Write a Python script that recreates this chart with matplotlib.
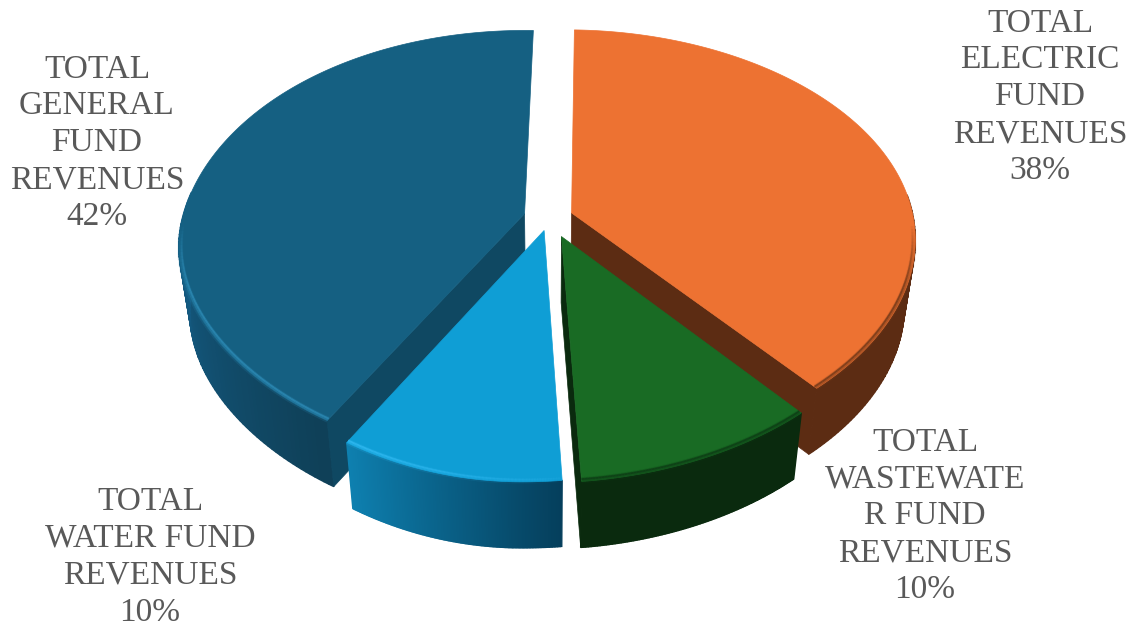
import numpy as np
import matplotlib
matplotlib.use("Agg")
import matplotlib.pyplot as plt
from matplotlib.collections import LineCollection
from matplotlib.colors import to_rgb
from matplotlib.patches import Polygon

# Fund shares, clockwise from twelve o'clock
labels = ["TOTAL\nELECTRIC\nFUND\nREVENUES", "TOTAL\nWASTEWATE\nR FUND\nREVENUES",
          "TOTAL\nWATER FUND\nREVENUES", "TOTAL\nGENERAL\nFUND\nREVENUES"]
shares = [38, 10, 10, 42]
explode = [0.07, 0.095, 0.06, 0.075]
radius = [1.0, 0.975, 1.0, 1.0]

top_colors = ["#ED7232", "#196B24", "#0F9ED5", "#156082"]
wall_light = ["#5C2C13", "#0A2A0E", "#0E80B0", "#15608A"]
wall_dark = ["#5C2C13", "#0A2A0E", "#053F5C", "#0F4058"]
cut_colors = ["#5C2C13", "#0A2A0E", "#0A4A66", "#0F4862"]
rim_colors = ["#7A3C1A", "#0E3F16", "#2FB8F0", "#2A86B0"]
label_pos = [(1040, 97), (925, 516), (150, 557), (97, 143)]

W, H = 1137, 628
CX, CY = 549, 218
A, B, K = 342, 211, 0.145
S, Q, T = 7.5, -9.5, 38
DEPTH, TAPER = 66, 0.97
START = 1.5


def project(x, y):
    w = 1 + K * y
    # T pulls the lower left quadrant in a little
    lean = T * np.maximum(-x, 0) * np.maximum(-y, 0) ** 2
    return CX + (A * x + S * y + Q * y * y + lean) / w, CY - B * y / w


def lower(px, py):
    # bottom edge of the extrusion, leaning slightly towards the middle
    return CX + (px - CX) * TAPER, py + DEPTH


def arc(a0, a1, r, ox, oy, n=160):
    t = np.radians(np.linspace(a0, a1, n))
    return project(r * np.sin(t) + ox, r * np.cos(t) + oy)


fig = plt.figure(figsize=(W / 100, H / 100), dpi=100)
ax = fig.add_axes([0, 0, 1, 1])
ax.set_xlim(0, W)
ax.set_ylim(H, 0)
ax.axis("off")

# angular extent of every slice
edges = START + np.cumsum([0] + shares) * 3.6
slices = []
for i in range(len(shares)):
    mid = np.radians((edges[i] + edges[i + 1]) / 2)
    slices.append((edges[i], edges[i + 1], explode[i] * np.sin(mid), explode[i] * np.cos(mid)))


def draw_slice(i, cut):
    a0, a1, ox, oy = slices[i]
    angles = np.linspace(a0, a1, 160)
    xs, ys = arc(a0, a1, radius[i], ox, oy)
    ax_, ay_ = project(np.float64(ox), np.float64(oy))
    bx, by = lower(xs, ys)

    # outer wall as narrow strips so the shade can run along the arc
    c0 = np.array(to_rgb(wall_light[i]))
    c1 = np.array(to_rgb(wall_dark[i]))
    if i == 3:
        u = np.clip(1 - (angles - 212) / 60, 0, 1)
    else:
        u = 1 - np.linspace(0, 1, len(xs))
    for j in range(len(xs) - 1):
        if np.cos(np.radians(angles[j])) > 0.1:
            continue
        col = c0 + (c1 - c0) * u[j]
        pts = [(xs[j], ys[j]), (xs[j + 1], ys[j + 1]), (bx[j + 1], by[j + 1]), (bx[j], by[j])]
        ax.add_patch(Polygon(pts, closed=True, fc=col, ec=col, lw=1.0))

    # flat wall along the cut edge
    if cut is not None:
        k = 0 if cut == "start" else -1
        low_a = lower(ax_, ay_)
        pts = [(ax_, ay_), (xs[k], ys[k]), (bx[k], by[k]), low_a]
        ax.add_patch(Polygon(pts, closed=True, fc=cut_colors[i], ec=cut_colors[i], lw=0.5))

    # top face and the soft bevel along its rim, fading out towards the sides
    top = np.column_stack([np.r_[ax_, xs], np.r_[ay_, ys]])
    ax.add_patch(Polygon(top, closed=True, fc=top_colors[i], ec=top_colors[i], lw=0.5))
    fade = np.clip((-0.05 - np.cos(np.radians(angles))) / 0.3, 0, 1)
    if i == 2:
        fade = fade * (0.12 + 0.88 * (angles - a0) / (a1 - a0))
    base = to_rgb(rim_colors[i])
    for r, al, lw in [(0.996, 0.2, 4.5), (0.994, 0.45, 2.5), (0.992, 0.85, 1.2)]:
        rx, ry = arc(a0, a1, r * radius[i], ox, oy)
        segs = np.stack([np.column_stack([rx[:-1], ry[:-1]]), np.column_stack([rx[1:], ry[1:]])], axis=1)
        cols = [(*base, al * f) for f in fade[:-1]]
        ax.add_collection(LineCollection(segs, colors=cols, linewidths=lw, capstyle="butt"))


# back to front: the two large slices first, the small near ones last
draw_slice(3, "start")
draw_slice(0, "end")
draw_slice(2, None)
draw_slice(1, "end")

for text, share, (lx, ly) in zip(labels, shares, label_pos):
    ax.text(lx, ly, f"{text}\n{share}%", ha="center", va="center", ma="center", fontsize=24,
            family="Liberation Serif", color="#595959", linespacing=1.27)

fig.savefig("out.png", dpi=100)
